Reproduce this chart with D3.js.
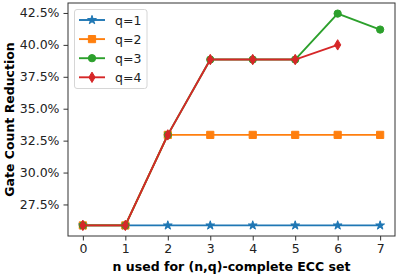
<!DOCTYPE html>
<html>
<head>
<meta charset="utf-8">
<script src="https://cdn.jsdelivr.net/npm/d3@7"></script>
<style>
  body { margin: 0; background: #fff; }
  text { font-family: "DejaVu Sans", sans-serif; }
</style>
</head>
<body>
<svg id="chart" width="399" height="276"></svg>
<script>
// x values: n used for (n,q)-complete ECC set
const nValues = [0, 1, 2, 3, 4, 5, 6, 7];
const q1 = [25.86, 25.86, 25.86, 25.86, 25.86, 25.86, 25.86, 25.86];
const q2 = [25.86, 25.86, 32.95, 32.95, 32.95, 32.95, 32.95, 32.95];
const q3 = [25.86, 25.86, 32.95, 38.85, 38.85, 38.85, 42.45, 41.2];
const q4 = [25.86, 25.86, 32.95, 38.85, 38.85, 38.85, 40.0];
const yTicks = [27.5, 30.0, 32.5, 35.0, 37.5, 40.0, 42.5];

const series = [
  { name: "q=1", values: q1, color: "#1f77b4", marker: "star" },
  { name: "q=2", values: q2, color: "#ff7f0e", marker: "square" },
  { name: "q=3", values: q3, color: "#2ca02c", marker: "circle" },
  { name: "q=4", values: q4, color: "#d62728", marker: "thin_diamond" }
];

const svg = d3.select("#chart");
const margin = { left: 68, right: 4, top: 3, bottom: 40 };
const width = 399, height = 276;

const x = d3.scaleLinear().domain([-0.35, 7.35]).range([margin.left, width - margin.right]);
const y = d3.scaleLinear().domain([25.03, 43.28]).range([height - margin.bottom, margin.top]);

// markers drawn as path strings centred on 0,0
function markerPath(kind) {
  if (kind === "star") return d3.symbol(d3.symbolStar, 24)();
  if (kind === "square") return "M-3.6,-3.6H3.6V3.6H-3.6Z";
  if (kind === "circle") return d3.symbol(d3.symbolCircle, 42)();
  return "M0,-5.2L3.1,0L0,5.2L-3.1,0Z";
}

const plot = svg.append("g");
const line = d3.line().x((d, i) => x(nValues[i])).y(d => y(d));

series.forEach(s => {
  const g = plot.append("g");
  g.append("path")
    .datum(s.values)
    .attr("d", line)
    .attr("fill", "none")
    .attr("stroke", s.color)
    .attr("stroke-width", 1.9);
  g.selectAll("path.m")
    .data(s.values)
    .enter()
    .append("path")
    .attr("class", "m")
    .attr("d", markerPath(s.marker))
    .attr("transform", (d, i) => `translate(${x(nValues[i])},${y(d)})`)
    .attr("fill", s.color)
    .attr("stroke", s.color)
    .attr("stroke-width", 1);
});

// axes
const xAxis = d3.axisBottom(x).tickValues(nValues).tickSize(4.5).tickPadding(4).tickFormat(d3.format("d"));
const yAxis = d3.axisLeft(y).tickValues(yTicks).tickSize(4.5).tickPadding(4).tickFormat(d => d.toFixed(1) + "%");

const gx = svg.append("g").attr("transform", `translate(0,${height - margin.bottom})`).call(xAxis);
const gy = svg.append("g").attr("transform", `translate(${margin.left},0)`).call(yAxis);
[gx, gy].forEach(g => {
  g.select(".domain").remove();
  g.selectAll("text").attr("font-size", 12.5).attr("fill", "#222").attr("font-family", "DejaVu Sans");
  g.selectAll("line").attr("stroke", "#333").attr("stroke-width", 1);
});

// frame
svg.append("rect")
  .attr("x", margin.left).attr("y", margin.top)
  .attr("width", width - margin.left - margin.right)
  .attr("height", height - margin.top - margin.bottom)
  .attr("fill", "none").attr("stroke", "#333").attr("stroke-width", 1);

// axis labels
svg.append("text")
  .attr("x", (margin.left + width - margin.right) / 2)
  .attr("y", 271)
  .attr("text-anchor", "middle")
  .attr("font-size", 12.5).attr("font-weight", "bold")
  .text("n used for (n,q)-complete ECC set");

svg.append("text")
  .attr("transform", `translate(14,${(margin.top + height - margin.bottom) / 2}) rotate(-90)`)
  .attr("text-anchor", "middle")
  .attr("font-size", 12.5).attr("font-weight", "bold")
  .text("Gate Count Reduction");

// legend
const legend = svg.append("g");
legend.append("rect")
  .attr("x", 74.5).attr("y", 9.5).attr("width", 72.5).attr("height", 79).attr("rx", 2.5)
  .attr("fill", "#fff").attr("fill-opacity", 0.8)
  .attr("stroke", "#d6d6d6").attr("stroke-width", 1);
series.forEach((s, i) => {
  const ly = 20 + i * 19.1;
  legend.append("line")
    .attr("x1", 79).attr("x2", 105).attr("y1", ly).attr("y2", ly)
    .attr("stroke", s.color).attr("stroke-width", 1.9);
  legend.append("path")
    .attr("d", markerPath(s.marker))
    .attr("transform", `translate(92,${ly})`)
    .attr("fill", s.color).attr("stroke", s.color).attr("stroke-width", 1);
  legend.append("text")
    .attr("x", 115).attr("y", ly).attr("dy", "0.36em")
    .attr("font-size", 12.5).attr("fill", "#222")
    .text(s.name);
});
</script>
</body>
</html>
